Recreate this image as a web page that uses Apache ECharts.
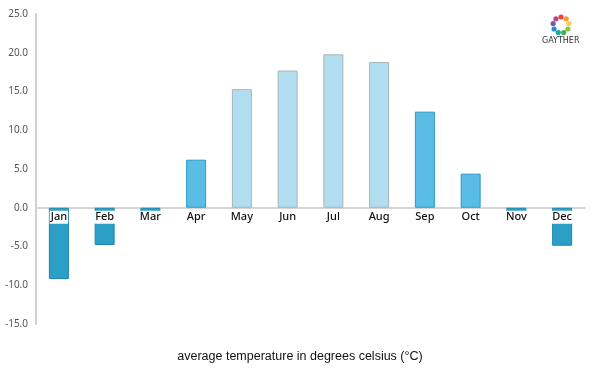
<!DOCTYPE html>
<html><head><meta charset="utf-8">
<script src="https://cdn.jsdelivr.net/npm/echarts@6/dist/echarts.min.js"></script>
<style>html,body{margin:0;padding:0;background:#fff}#c{width:600px;height:375px}</style>
</head><body><div id="c"></div>
<script>
const months = ['Jan','Feb','Mar','Apr','May','Jun','Jul','Aug','Sep','Oct','Nov','Dec'];
const temps = [-9.2,-4.8,-2.0,6.2,15.3,17.7,19.8,18.8,12.4,4.4,-0.7,-4.9];
const yMin = -15, yMax = 25, yStep = 5;
const title = 'average temperature in degrees celsius (°C)';

function barColor(v){ return v < 0 ? '#2b9fc6' : (v > 15 ? '#b1ddf1' : '#5abde6'); }
function barBorder(v){ return v < 0 ? '#1e86ad' : (v > 15 ? '#a9b4ba' : '#2f9ac4'); }

const ringColors = ['#e8463c','#f39c34','#f7d23a','#8cc63f','#3fb34f','#23a99c','#2a8fd0','#6c5fb0','#c2408f'];
const logo = [];
for (let i = 0; i < 9; i++) {
  const a = -Math.PI/2 + i * 2*Math.PI/9;
  logo.push({type:'circle', shape:{cx:561+Math.cos(a)*8, cy:25+Math.sin(a)*8, r:2.6}, style:{fill:ringColors[i]}});
}
logo.push({type:'text', left:542, top:37, style:{text:'GAYTHER', font:'8px "DejaVu Sans"', fill:'#333'}});

const chart = echarts.init(document.getElementById('c'));
chart.setOption({
  animation:false,
  grid:{left:36, right:15, top:14, bottom:51, containLabel:false},
  xAxis:{type:'category', data:months,
    axisLine:{onZero:true, lineStyle:{color:'#c8c8c8', width:1.5}},
    axisTick:{show:false},
    axisLabel:{show:false}},
  yAxis:{type:'value', min:yMin, max:yMax, interval:yStep,
    axisLine:{show:true, lineStyle:{color:'#d0d0d0', width:2}},
    axisTick:{show:false}, splitLine:{show:false},
    axisLabel:{formatter:v=>v.toFixed(1), color:'#555', fontSize:10, margin:8, fontFamily:'"Noto Sans", sans-serif'}},
  series:[
    {type:'bar', barWidth:20, z:2,
      data:temps.map(v=>({value:v, itemStyle:{color:barColor(v), borderColor:barBorder(v), borderWidth:1}}))},
    {type:'scatter', symbolSize:0, z:10, silent:true,
      itemStyle:{opacity:1},
      data:months.map(m=>[m,0]),
      label:{show:true, position:'bottom', distance:3, formatter:p=>p.name || p.value[0],
        color:'#111', fontSize:11, fontWeight:500, fontFamily:'"Noto Sans", sans-serif',
        backgroundColor:'#ffffff', padding:[0,1,0,1], lineHeight:13, opacity:1}}
  ],
  graphic:[{type:'text', left:'center', top:350, style:{text:title, font:'12.5px "Liberation Sans", Arial', fill:'#111'}}].concat(logo)
});
</script></body></html>
